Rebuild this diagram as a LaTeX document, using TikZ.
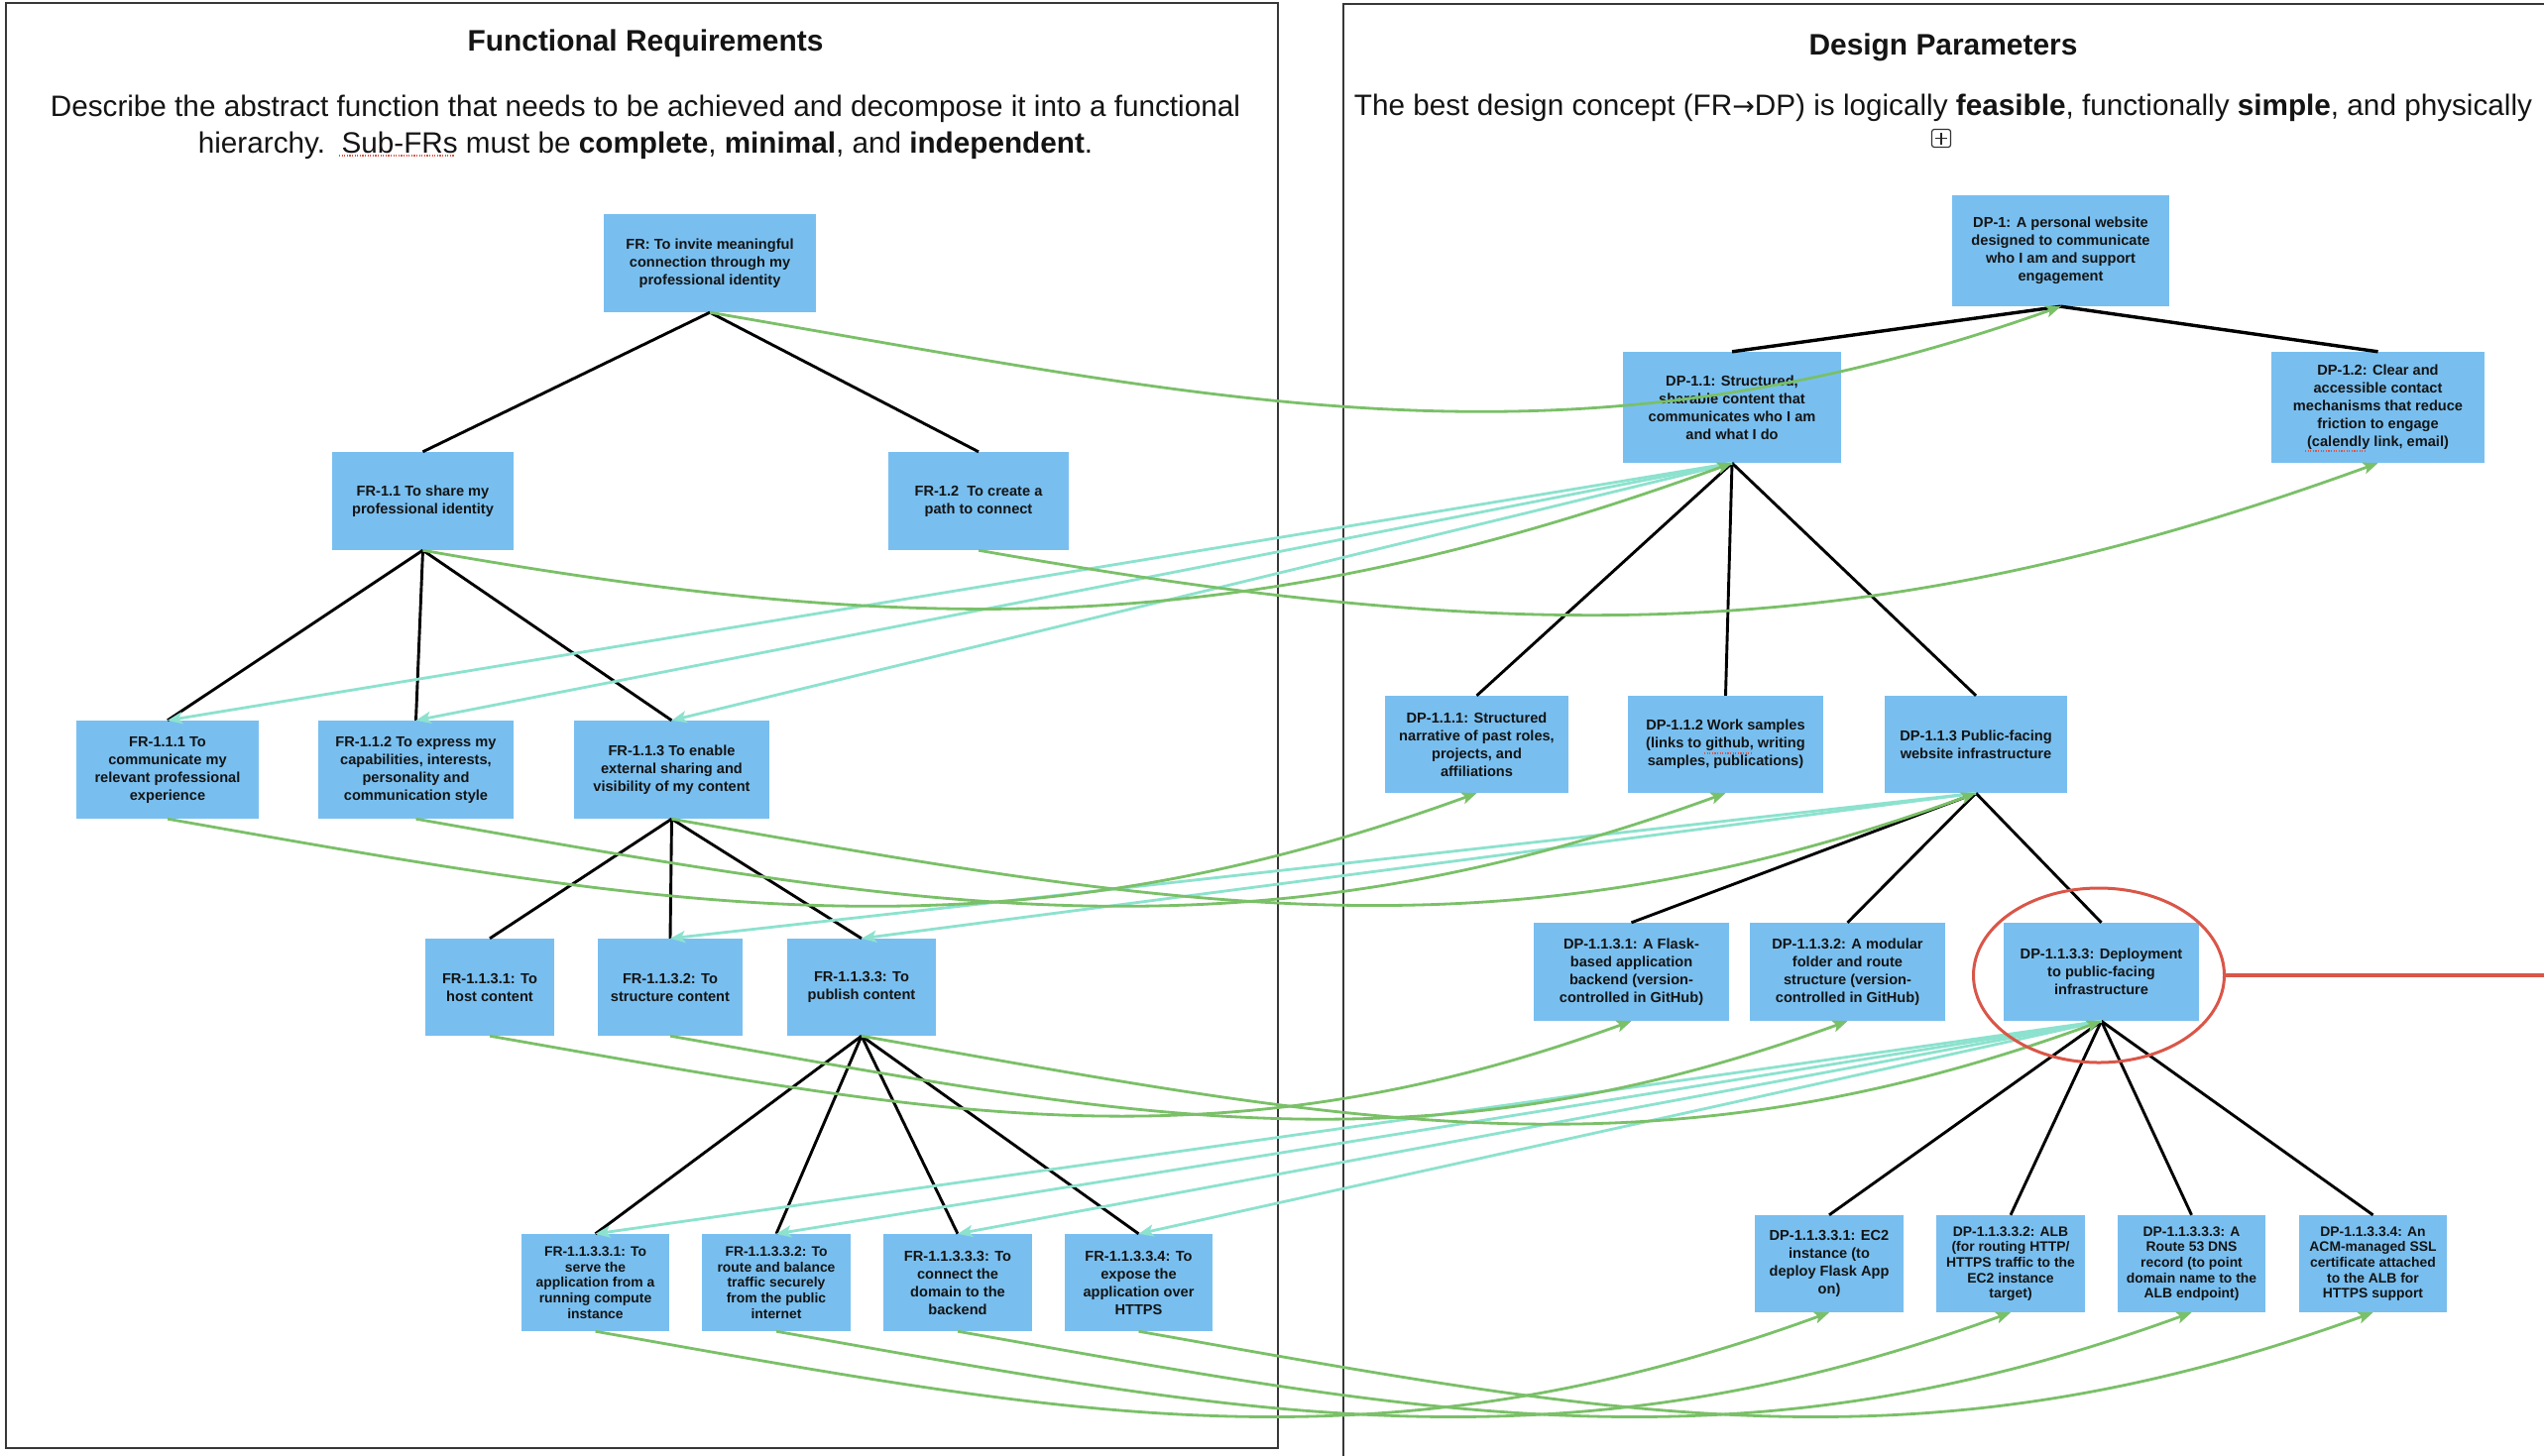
\documentclass[tikz,border=0pt]{standalone}
\usepackage{fontspec}
\setmainfont{Liberation Sans}
\newfontfamily\arrowfont{DejaVu Sans}
\usetikzlibrary{arrows.meta,shapes.geometric}

\definecolor{boxblue}{RGB}{120,191,240}
\definecolor{mapgreen}{RGB}{122,192,104}
\definecolor{mapmint}{RGB}{140,226,206}
\definecolor{ringred}{RGB}{217,86,72}
\definecolor{framegray}{RGB}{55,55,55}
\definecolor{inkblack}{RGB}{20,20,20}

\begin{document}
\begin{tikzpicture}[x=1pt,y=-1pt,
  box/.style={fill=boxblue, inner sep=0pt, align=center, text=inkblack,
    font=\fontsize{14.6}{18}\selectfont\bfseries},
  smallbox/.style={box, font=\fontsize{13.9}{15.7}\selectfont\bfseries},
  tree/.style={line width=2.9pt, black},
  map/.style={mapgreen, line width=2.8pt,
    -{Stealth[length=15pt,width=12pt,inset=3.5pt]}},
  back/.style={mapmint, line width=2.8pt,
    -{Stealth[length=15pt,width=12pt,inset=3.5pt]}},
  heading/.style={font=\fontsize{29.9}{36}\selectfont\bfseries, text=inkblack, inner sep=0pt, anchor=base},
  subtext/.style={font=\fontsize{29.7}{37}\selectfont, text=inkblack, inner sep=0pt, anchor=base},
  squiggle/.style={ringred, line width=1.1pt, dash pattern=on 1.2pt off 1.4pt}
]
\useasboundingbox (0,0) rectangle (2566,1468);
\fill[white] (0,0) rectangle (2566,1468);
\clip (0,0) rectangle (2566,1468);

% ---------- panel frames ----------
\draw[framegray, line width=1.6pt] (6,3) rectangle (1289,1461);
\draw[framegray, line width=1.3pt] (2620,4) -- (1355,4) -- (1355,1520);

% ---------- panel headings ----------
\node[heading] (frhead) at (651,51) {Functional Requirements};
\node[heading] (dphead) at (1960,55) {Design Parameters};
\node[subtext] (frsub1) at (651,117) {Describe the abstract function that needs to be achieved and decompose it into a functional};
\node[subtext] (frsub2) at (651,154) {hierarchy.\ \ Sub-FRs must be \textbf{complete}, \textbf{minimal}, and \textbf{independent}.};
\node[subtext] (dpsub) at (1960,116) {The best design concept (FR{\arrowfont\fontsize{27}{37}\selectfont →}DP) is logically \textbf{feasible}, functionally \textbf{simple}, and physically};
\draw[squiggle] (342,157) -- (458,157);

% small expand button under the design-parameter text
\node[draw=black!80, rounded corners=2.5pt, line width=1.2pt, minimum width=19pt,
      minimum height=18pt, inner sep=0pt] (plusbtn) at (1958,139.5) {};
\draw[black!85, line width=1.5pt] (plusbtn.center) ++(-6,0) -- ++(12,0);
\draw[black!85, line width=1.5pt] (plusbtn.center) ++(0,-6) -- ++(0,12);

% ---------- functional requirements ----------
\node[box, minimum width=214pt, minimum height=99pt] (fr) at (716,265.5)
  {FR: To invite meaningful\\connection through my\\professional identity};
\node[box, minimum width=183pt, minimum height=99pt] (fr11) at (426.5,505.5)
  {FR-1.1 To share my\\professional identity};
\node[box, minimum width=182pt, minimum height=99pt] (fr12) at (987,505.5)
  {FR-1.2\ \ To create a\\path to connect};
\node[box, minimum width=184pt, minimum height=99pt] (fr111) at (169,776.5)
  {FR-1.1.1 To\\communicate my\\relevant professional\\experience};
\node[box, minimum width=197pt, minimum height=99pt] (fr112) at (419.5,776.5)
  {FR-1.1.2 To express my\\capabilities, interests,\\personality and\\communication style};
\node[box, minimum width=197pt, minimum height=99pt] (fr113) at (677.5,776.5)
  {FR-1.1.3 To enable\\external sharing and\\visibility of my content};
\node[box, minimum width=130pt, minimum height=98pt] (fr1131) at (494,996)
  {FR-1.1.3.1: To\\host content};
\node[box, minimum width=146pt, minimum height=98pt] (fr1132) at (676,996)
  {FR-1.1.3.2: To\\structure content};
\node[box, minimum width=150pt, minimum height=98pt] (fr1133) at (869,996)
  {FR-1.1.3.3: To\\publish content};
\node[smallbox, minimum width=149pt, minimum height=98pt] (fr11331) at (600.5,1294)
  {FR-1.1.3.3.1: To\\serve the\\application from a\\running compute\\instance};
\node[smallbox, minimum width=150pt, minimum height=98pt] (fr11332) at (783,1294)
  {FR-1.1.3.3.2: To\\route and balance\\traffic securely\\from the public\\internet};
\node[box, minimum width=150pt, minimum height=98pt] (fr11333) at (966,1294)
  {FR-1.1.3.3.3: To\\connect the\\domain to the\\backend};
\node[box, minimum width=149pt, minimum height=98pt] (fr11334) at (1148.5,1294)
  {FR-1.1.3.3.4: To\\expose the\\application over\\HTTPS};

% ---------- design parameters ----------
\node[box, minimum width=219pt, minimum height=112pt] (dp1) at (2078.5,253)
  {DP-1: A personal website\\designed to communicate\\who I am and support\\engagement};
\node[box, minimum width=220pt, minimum height=112pt] (dp11) at (1747,411)
  {DP-1.1: Structured,\\sharable content that\\communicates who I am\\and what I do};
\node[box, minimum width=215pt, minimum height=112pt] (dp12) at (2398.5,411)
  {DP-1.2: Clear and\\accessible contact\\mechanisms that reduce\\friction to engage\\(calendly link, email)};
\node[box, minimum width=185pt, minimum height=98pt] (dp111) at (1489.5,751)
  {DP-1.1.1: Structured\\narrative of past roles,\\projects, and\\affiliations};
\node[box, minimum width=197pt, minimum height=98pt] (dp112) at (1740.5,751)
  {DP-1.1.2 Work samples\\(links to github, writing\\samples, publications)};
\node[box, minimum width=184pt, minimum height=98pt] (dp113) at (1993,751)
  {DP-1.1.3 Public-facing\\website infrastructure};
\node[box, minimum width=197pt, minimum height=99pt] (dp1131) at (1645.5,980.5)
  {DP-1.1.3.1: A Flask-\\based application\\backend (version-\\controlled in GitHub)};
\node[box, minimum width=197pt, minimum height=99pt] (dp1132) at (1863.5,980.5)
  {DP-1.1.3.2: A modular\\folder and route\\structure (version-\\controlled in GitHub)};
\node[box, minimum width=197pt, minimum height=99pt] (dp1133) at (2119.5,980.5)
  {DP-1.1.3.3: Deployment\\to public-facing\\infrastructure};
\node[box, minimum width=150pt, minimum height=98pt] (dp11331) at (1845,1275)
  {DP-1.1.3.3.1: EC2\\instance (to\\deploy Flask App\\on)};
\node[smallbox, minimum width=150pt, minimum height=98pt] (dp11332) at (2028,1275)
  {DP-1.1.3.3.2: ALB\\(for routing HTTP/\\HTTPS traffic to the\\EC2 instance\\target)};
\node[smallbox, minimum width=149pt, minimum height=98pt] (dp11333) at (2210.5,1275)
  {DP-1.1.3.3.3: A\\Route 53 DNS\\record (to point\\domain name to the\\ALB endpoint)};
\node[smallbox, minimum width=149pt, minimum height=98pt] (dp11334) at (2393.5,1275)
  {DP-1.1.3.3.4: An\\ACM-managed SSL\\certificate attached\\to the ALB for\\HTTPS support};

\draw[squiggle] (2325,455) -- (2387,455);
\draw[squiggle] (1719,760) -- (1768,760);

% ---------- decomposition trees ----------
\draw[tree] (fr.south) -- (fr11.north);
\draw[tree] (fr.south) -- (fr12.north);
\draw[tree] (fr11.south) -- (fr111.north);
\draw[tree] (fr11.south) -- (fr112.north);
\draw[tree] (fr11.south) -- (fr113.north);
\draw[tree] (fr113.south) -- (fr1131.north);
\draw[tree] (fr113.south) -- (fr1132.north);
\draw[tree] (fr113.south) -- (fr1133.north);
\draw[tree] (fr1133.south) -- (fr11331.north);
\draw[tree] (fr1133.south) -- (fr11332.north);
\draw[tree] (fr1133.south) -- (fr11333.north);
\draw[tree] (fr1133.south) -- (fr11334.north);

\draw[tree, line width=3.4pt] (dp1.south) -- (dp11.north);
\draw[tree, line width=3.4pt] (dp1.south) -- (dp12.north);
\draw[tree] (dp11.south) -- (dp111.north);
\draw[tree] (dp11.south) -- (dp112.north);
\draw[tree] (dp11.south) -- (dp113.north);
\draw[tree] (dp113.south) -- (dp1131.north);
\draw[tree] (dp113.south) -- (dp1132.north);
\draw[tree] (dp113.south) -- (dp1133.north);
\draw[tree] (dp1133.south) -- (dp11331.north);
\draw[tree] (dp1133.south) -- (dp11332.north);
\draw[tree] (dp1133.south) -- (dp11333.north);
\draw[tree] (dp1133.south) -- (dp11334.north);

% ---------- DP -> child FR links ----------
\draw[back] (dp11.south) -- (fr111.north);
\draw[back] (dp11.south) -- (fr112.north);
\draw[back] (dp11.south) -- (fr113.north);
\draw[back] (dp113.south) -- (fr1132.north);
\draw[back] (dp113.south) -- (fr1133.north);
\draw[back] (dp1133.south) -- (fr11331.north);
\draw[back] (dp1133.south) -- (fr11332.north);
\draw[back] (dp1133.south) -- (fr11333.north);
\draw[back] (dp1133.south) -- (fr11334.north);

% ---------- FR -> DP mapping (control points relative to each end) ----------
\draw[map] (fr.south) .. controls +(525,90) and +(-501,178) .. (dp1.south);
\draw[map] (fr11.south) .. controls +(510,90) and +(-487,177) .. (dp11.south);
\draw[map] (fr12.south) .. controls +(545,96) and +(-520,189) .. (dp12.south);
\draw[map] (fr111.south) .. controls +(509,90) and +(-486,177) .. (dp111.south);
\draw[map] (fr112.south) .. controls +(509,90) and +(-486,177) .. (dp112.south);
\draw[map] (fr113.south) .. controls +(507,89) and +(-484,176) .. (dp113.south);
\draw[map] (fr1131.south) .. controls +(444,78) and +(-424,154) .. (dp1131.south);
\draw[map] (fr1132.south) .. controls +(458,81) and +(-437,159) .. (dp1132.south);
\draw[map] (fr1133.south) .. controls +(482,85) and +(-460,168) .. (dp1133.south);
\draw[map] (fr11331.south) .. controls +(480,85) and +(-458,167) .. (dp11331.south);
\draw[map] (fr11332.south) .. controls +(480,85) and +(-458,167) .. (dp11332.south);
\draw[map] (fr11333.south) .. controls +(480,85) and +(-458,167) .. (dp11333.south);
\draw[map] (fr11334.south) .. controls +(480,85) and +(-458,167) .. (dp11334.south);

% ---------- highlight ring ----------
\node[ellipse, draw=ringred, line width=3pt, minimum width=253pt, minimum height=176pt,
      inner sep=0pt] (ring) at (2117,984) {};
\coordinate (ringtail) at (2580,984);
\draw[ringred, line width=3.2pt] (ring.east) -- (ringtail);

\end{tikzpicture}
\end{document}
